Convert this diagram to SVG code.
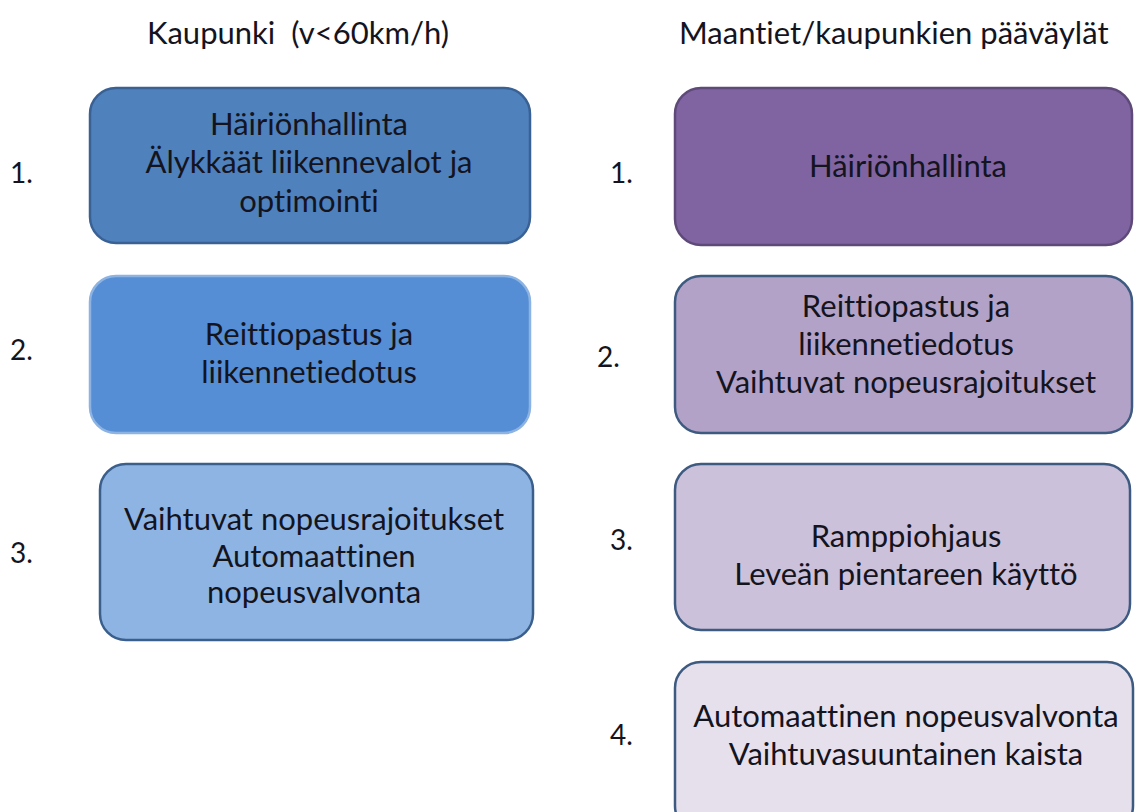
<svg xmlns="http://www.w3.org/2000/svg" width="1136" height="812" viewBox="0 0 1136 812">
  <style>
    text { font-family: Lato, "Open Sans", "Liberation Sans", sans-serif; fill: #14141e; font-variant-ligatures: none; }
    .hdr { font-size: 31px; white-space: pre; }
    .num { font-size: 28px; }
    .lbl { font-size: 31px; text-anchor: middle; }
    .box { stroke-width: 2.5; }
  </style>
  <rect width="1136" height="812" fill="#ffffff"/>

  <!-- column headings -->
  <g id="headings">
    <text class="hdr" x="147" y="44" xml:space="preserve">Kaupunki  (v&lt;60km/h)</text>
    <text class="hdr" x="679" y="44">Maantiet/kaupunkien pääväylät</text>
  </g>

  <!-- priority numbers -->
  <g id="numbers">
    <text class="num" x="10" y="183">1.</text>
    <text class="num" x="10" y="360">2.</text>
    <text class="num" x="10" y="563">3.</text>
    <text class="num" x="610" y="183">1.</text>
    <text class="num" x="597" y="367">2.</text>
    <text class="num" x="610" y="550">3.</text>
    <text class="num" x="610" y="745">4.</text>
  </g>

  <!-- city column -->
  <g id="city-1">
    <rect class="box" x="90" y="88" width="440" height="155" rx="26" fill="#4f81bd" stroke="#3a6194"/>
    <text class="lbl" x="309" y="135">Häiriönhallinta</text>
    <text class="lbl" x="309" y="173">Älykkäät liikennevalot ja</text>
    <text class="lbl" x="309" y="212">optimointi</text>
  </g>
  <g id="city-2">
    <rect class="box" x="90" y="276" width="440" height="157" rx="26" fill="#558ed5" stroke="#8db3e2"/>
    <text class="lbl" x="309" y="345">Reittiopastus ja</text>
    <text class="lbl" x="309" y="383">liikennetiedotus</text>
  </g>
  <g id="city-3">
    <rect class="box" x="100" y="464" width="433" height="176" rx="26" fill="#8eb4e3" stroke="#3a5f8c"/>
    <text class="lbl" x="314" y="530">Vaihtuvat nopeusrajoitukset</text>
    <text class="lbl" x="314" y="567">Automaattinen</text>
    <text class="lbl" x="314" y="603">nopeusvalvonta</text>
  </g>

  <!-- highway column -->
  <g id="road-1">
    <rect class="box" x="675" y="88" width="457" height="157" rx="26" fill="#8064a2" stroke="#5e4a78"/>
    <text class="lbl" x="908" y="177">Häiriönhallinta</text>
  </g>
  <g id="road-2">
    <rect class="box" x="675" y="276" width="457" height="157" rx="26" fill="#b3a2c7" stroke="#3d5a80"/>
    <text class="lbl" x="906" y="317">Reittiopastus ja</text>
    <text class="lbl" x="906" y="355">liikennetiedotus</text>
    <text class="lbl" x="906" y="393">Vaihtuvat nopeusrajoitukset</text>
  </g>
  <g id="road-3">
    <rect class="box" x="675" y="464" width="455" height="166" rx="26" fill="#ccc1da" stroke="#3d5a80"/>
    <text class="lbl" x="906" y="547">Ramppiohjaus</text>
    <text class="lbl" x="906" y="585">Leveän pientareen käyttö</text>
  </g>
  <g id="road-4">
    <rect class="box" x="675" y="662" width="458" height="170" rx="26" fill="#e6e0ec" stroke="#3d5a80"/>
    <text class="lbl" x="906" y="727">Automaattinen nopeusvalvonta</text>
    <text class="lbl" x="906" y="765">Vaihtuvasuuntainen kaista</text>
  </g>

  <!-- no connectors in this layout -->
  <g id="connectors"/>
</svg>
